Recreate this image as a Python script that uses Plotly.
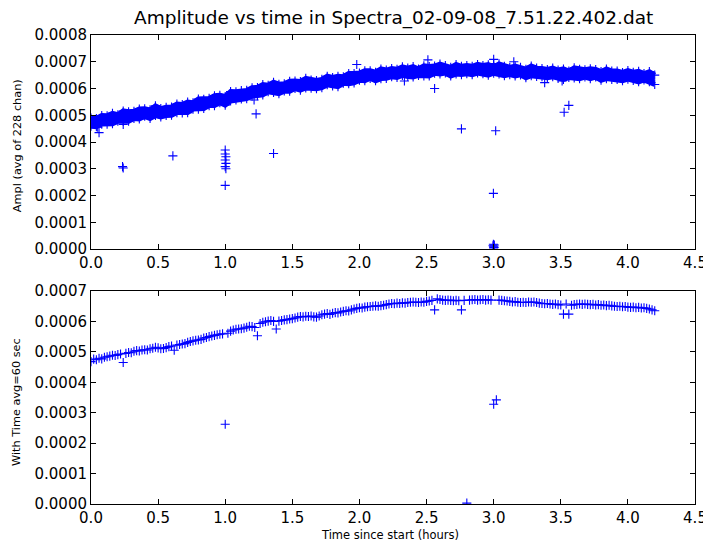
import plotly.graph_objects as go
from plotly.subplots import make_subplots

# ---------------- data (amplitudes in units of 1e-6) ----------------
# Top panel: raw amplitude band, upper and lower envelopes read at 0.04 h steps
raw_step = 0.04
raw_hi = [490, 488, 499, 498, 507, 502, 516, 513, 515, 523, 524, 520, 535, 525,
          530, 531, 542, 540, 549, 547, 561, 560, 563, 573, 575, 570, 589, 588,
          592, 593, 603, 604, 615, 612, 623, 616, 618, 627, 628, 626, 638, 632,
          630, 634, 646, 641, 646, 644, 656, 656, 658, 666, 666, 661, 673, 669,
          675, 672, 681, 676, 682, 673, 685, 682, 684, 691, 686, 679, 690, 683,
          686, 683, 690, 686, 689, 681, 692, 683, 679, 684, 679, 672, 684, 676,
          675, 671, 676, 669, 673, 665, 677, 672, 670, 674, 671, 663, 673, 665,
          665, 660, 667, 661, 664, 656, 663, 650]
raw_lo = [459, 457, 467, 467, 468, 478, 478, 478, 488, 486, 496, 488, 499, 494,
          499, 500, 510, 509, 510, 523, 523, 525, 536, 536, 547, 538, 553, 557,
          561, 562, 571, 573, 576, 588, 585, 581, 591, 590, 600, 594, 602, 601,
          599, 603, 614, 610, 607, 620, 618, 621, 631, 629, 638, 629, 637, 638,
          644, 641, 649, 645, 643, 649, 647, 647, 657, 654, 658, 647, 654, 652,
          655, 652, 658, 655, 650, 657, 654, 648, 652, 647, 651, 640, 648, 645,
          644, 640, 644, 638, 634, 641, 639, 637, 643, 637, 643, 631, 637, 634,
          634, 629, 635, 630, 625, 632, 625, 615]

# Top panel: isolated outlier samples (time in hours, amplitude 1e-6)
out_top_t = [0.05, 0.06, 0.235, 0.24, 0.24, 0.61, 1.0, 1.0, 1.005, 1.0, 1.005,
             1.0, 1.005, 1.0, 1.215, 1.23, 1.36, 1.98, 2.335, 2.51, 2.56, 2.76,
             2.998, 3.015, 3.0, 3.0, 3.15, 3.38, 3.51, 3.525, 3.56,
             2.995, 3.0, 3.005, 3.0, 2.998, 3.003]
out_top_v = [455, 435, 308, 303, 466, 348, 370, 355, 345, 333, 320,
             308, 300, 238, 557, 505, 357, 690, 628, 707, 600, 449,
             208, 442, 709, 693, 700, 622, 628, 511, 537,
             12, 8, 15, 4, 18, 6]

# Bottom panel: 60 s averages, one value every 0.02 h
avg_step = 0.02
avg_vals = [468, 476, 474, 479, 477, 482, 484, 486, 489, 488, 491, 493, 465, 495,
            498, 497, 502, 504, 503, 506, 507, 506, 510, 512, 515, 513, 510, 511,
            514, 517, 519, 505, 522, 524, 526, 527, 531, 534, 536, 538, 539, 541,
            545, 547, 550, 552, 554, 556, 558, 559, 262, 561, 568, 572, 574, 575,
            576, 578, 581, 584, 583, 580, 553, 593, 597, 599, 601, 603, 600, 575,
            601, 603, 605, 606, 608, 609, 611, 614, 616, 615, 617, 616, 618, 615,
            614, 618, 622, 624, 626, 623, 627, 629, 628, 631, 633, 635, 634, 638,
            641, 643, 645, 644, 647, 648, 649, 650, 651, 650, 652, 653, 655, 657,
            659, 658, 660, 659, 661, 660, 662, 663, 664, 663, 662, 664, 663, 666,
            667, 669, 638, 674, 672, 670, 669, 670, 669, 668, 669, 668, 638, 669,
            3, 670, 671, 672, 670, 671, 672, 670, 671, 670, 328, 342, 670, 669,
            668, 667, 666, 664, 665, 663, 662, 663, 662, 664, 663, 664, 662, 660,
            659, 658, 659, 657, 656, 657, 655, 654, 624, 657, 624, 653, 655, 656,
            657, 656, 657, 656, 655, 656, 654, 655, 653, 654, 652, 653, 651, 650,
            649, 650, 648, 649, 647, 646, 647, 645, 646, 644, 645, 643, 641, 638,
            635]

x_ticks = [0.0, 0.5, 1.0, 1.5, 2.0, 2.5, 3.0, 3.5, 4.0, 4.5]
top_y_ticks = [0.0, 0.0001, 0.0002, 0.0003, 0.0004, 0.0005, 0.0006, 0.0007, 0.0008]
bot_y_ticks = [0.0, 0.0001, 0.0002, 0.0003, 0.0004, 0.0005, 0.0006, 0.0007]

title_text = "Amplitude vs time in Spectra_02-09-08_7.51.22.402.dat"
ylabel_top = "Ampl (avg of 228 chan)"
ylabel_bot = "With Time avg=60 sec"
xlabel_bot = "Time since start (hours)"

# ---------------- derived arrays ----------------
SCALE = 1e-6
t_raw = [round(i * raw_step, 4) for i in range(len(raw_hi))]
hi = [v * SCALE for v in raw_hi]
lo = [v * SCALE for v in raw_lo]
t_avg = [round(i * avg_step, 4) for i in range(len(avg_vals))]
avg = [v * SCALE for v in avg_vals]
out_v = [v * SCALE for v in out_top_v]

BLUE = "#0000ff"
FONT = "DejaVu Sans"
plus = dict(symbol="cross-thin", size=6.5, line=dict(width=1.1, color=BLUE), color=BLUE)

fig = make_subplots(rows=2, cols=1)

# top band: filled envelope plus '+' samples on both edges
fig.add_trace(go.Scatter(x=t_raw, y=lo, mode="lines", line=dict(width=5, color=BLUE),
                         hoverinfo="skip", showlegend=False), row=1, col=1)
fig.add_trace(go.Scatter(x=t_raw, y=hi, mode="lines", line=dict(width=5, color=BLUE),
                         fill="tonexty", fillcolor=BLUE, hoverinfo="skip",
                         showlegend=False), row=1, col=1)
fig.add_trace(go.Scatter(x=t_raw, y=hi, mode="markers", marker=plus,
                         showlegend=False), row=1, col=1)
fig.add_trace(go.Scatter(x=t_raw, y=lo, mode="markers", marker=plus,
                         showlegend=False), row=1, col=1)
fig.add_trace(go.Scatter(x=out_top_t, y=out_v, mode="markers", marker=plus,
                         showlegend=False), row=1, col=1)

# bottom: 60 s averages
fig.add_trace(go.Scatter(x=t_avg, y=avg, mode="markers", marker=plus,
                         showlegend=False), row=2, col=1)

axis_common = dict(showline=True, linecolor="black", linewidth=1, mirror="allticks",
                   ticks="inside", ticklen=5, tickwidth=1, tickcolor="black",
                   showgrid=False, zeroline=False, automargin=False,
                   tickfont=dict(family=FONT, size=15, color="black"))

fig.update_xaxes(range=[0, 4.5], tickvals=x_ticks, tickformat=".1f", **axis_common)
fig.update_yaxes(range=[0, 0.0008], tickvals=top_y_ticks, tickformat=".4f",
                 row=1, col=1, **axis_common)
fig.update_yaxes(range=[0, 0.0007], tickvals=bot_y_ticks, tickformat=".4f",
                 row=2, col=1, **axis_common)

# the page body adds an 8 px offset, so the figure is sized 703x538
fig.update_layout(
    width=703, height=538,
    margin=dict(l=83, r=16, t=27, b=42, autoexpand=False),
    plot_bgcolor="white", paper_bgcolor="white",
    font=dict(family=FONT, color="black"),
    xaxis=dict(domain=[0, 1]), xaxis2=dict(domain=[0, 1]),
    yaxis=dict(domain=[0.5437, 1.0]), yaxis2=dict(domain=[0.0, 0.4542]),
    annotations=[
        dict(text=title_text, xref="paper", yref="paper", x=0.5, y=1.036,
             xanchor="center", yanchor="middle", showarrow=False,
             font=dict(family=FONT, size=18.5, color="black")),
        dict(text=ylabel_top, xref="paper", yref="paper", x=-0.1225, y=0.763,
             xanchor="center", yanchor="middle", textangle=-90, showarrow=False,
             font=dict(family=FONT, size=11.3, color="black")),
        dict(text=ylabel_bot, xref="paper", yref="paper", x=-0.1225, y=0.2175,
             xanchor="center", yanchor="middle", textangle=-90, showarrow=False,
             font=dict(family=FONT, size=11.3, color="black")),
        dict(text=xlabel_bot, xref="paper", yref="paper", x=0.495, y=-0.066,
             xanchor="center", yanchor="middle", showarrow=False,
             font=dict(family=FONT, size=11.5, color="black")),
    ],
)

fig.write_html("out.html")
